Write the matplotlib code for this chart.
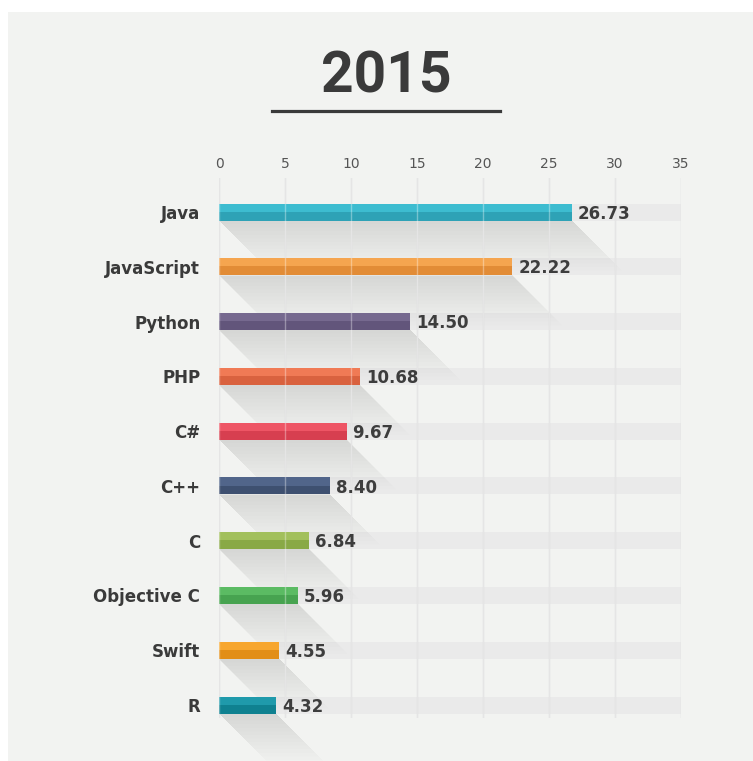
import matplotlib
matplotlib.use("Agg")
import matplotlib.pyplot as plt
from matplotlib.patches import Rectangle, Polygon
from matplotlib.lines import Line2D

languages = ["Java", "JavaScript", "Python", "PHP", "C#", "C++", "C", "Objective C", "Swift", "R"]
shares = [26.73, 22.22, 14.50, 10.68, 9.67, 8.40, 6.84, 5.96, 4.55, 4.32]
value_labels = ["26.73", "22.22", "14.50", "10.68", "9.67", "8.40", "6.84", "5.96", "4.55", "4.32"]
colors_top = ["#3dbcd0", "#f5a54f", "#76698f", "#f07a55", "#ee5565", "#51658a", "#a2c05c", "#5bbb63", "#f7a62e", "#1f9aab"]
colors_bottom = ["#2ea2b6", "#e28c36", "#62557b", "#d9623f", "#d73f50", "#3e5070", "#89a946", "#47a350", "#e28e17", "#0f8190"]
xticks = [0, 5, 10, 15, 20, 25, 30, 35]
title = "2015"

W, H = 753, 761
fig = plt.figure(figsize=(W / 100, H / 100), dpi=100, facecolor="white")
bg = Rectangle((8 / W, 0), 1 - 8 / W, 1 - 12 / H, transform=fig.transFigure,
               facecolor="#f2f3f1", edgecolor="none", zorder=-10)
fig.patches.append(bg)

# title
fig.text(386 / W, 1 - 77 / H, title, ha="center", va="center", fontsize=41, fontweight="bold",
         color="#3a3a3a", family=["Roboto", "DejaVu Sans"])
fig.lines.append(Line2D([272 / W, 500 / W], [1 - 111 / H, 1 - 111 / H], transform=fig.transFigure,
                        color="#3a3a3a", lw=2.3))

ax_left, ax_right = 219, 681
ax_top, ax_bottom = 178, 718
ax = fig.add_axes([ax_left / W, 1 - ax_bottom / H, (ax_right - ax_left) / W, (ax_bottom - ax_top) / H])
ax.set_zorder(1)
ax.set_facecolor("none")
row_px = (705 - 212) / 9
ax.set_xlim(0, 35)
ax.set_ylim(9 + (ax_bottom - 705) / row_px, -(212 - ax_top) / row_px)

px_x = (ax_right - ax_left) / 35.0
bar_h = 17 / row_px
n = len(languages)
for i in range(n):
    v = shares[i]
    y = i
    yb = y + bar_h / 2
    # background track
    ax.add_patch(Rectangle((0, y - bar_h / 2), 35, bar_h, facecolor="#eaeaea", edgecolor="none", zorder=1))
    # diagonal long shadow (fading)
    L = 50
    steps = 14
    for k in range(1, steps + 1):
        f = k / steps
        dx = L * f / px_x
        dy = L * f / row_px
        ax.add_patch(Polygon([(0, yb), (v, yb), (v + dx, yb + dy), (dx, yb + dy)], closed=True,
                             facecolor="black", edgecolor="none", alpha=0.007, zorder=2, clip_on=False))
    # bar: darker bottom and lighter top
    ax.add_patch(Rectangle((0, y - bar_h / 2), v, bar_h, facecolor=colors_bottom[i], edgecolor="none", zorder=3))
    ax.add_patch(Rectangle((0, y - bar_h / 2), v, bar_h * 0.48, facecolor=colors_top[i], edgecolor="none", zorder=3))
    # value label
    ax.text(v + 0.45, y + 0.03, value_labels[i], ha="left", va="center", fontsize=12, fontweight="bold",
            color="#3d3d3d", family=["DejaVu Sans"], zorder=5)

for xt in xticks:
    ax.axvline(xt, color="#d8d8d8", lw=1, zorder=2.5)
    ax.axvline(xt, color="white", lw=1, alpha=0.35, zorder=4)

ax.xaxis.tick_top()
ax.set_xticks(xticks)
ax.set_xticklabels([str(t) for t in xticks], fontsize=10, color="#555555", family=["DejaVu Sans"])
ax.tick_params(axis="x", length=0, pad=5)
ax.set_yticks(range(n))
ax.set_yticklabels(languages, fontsize=12, fontweight="bold", color="#3a3a3a", family=["DejaVu Sans"])
ax.tick_params(axis="y", length=0, pad=13.5)
for s in ax.spines.values():
    s.set_visible(False)

fig.savefig("out.png", dpi=100, facecolor=fig.get_facecolor())
